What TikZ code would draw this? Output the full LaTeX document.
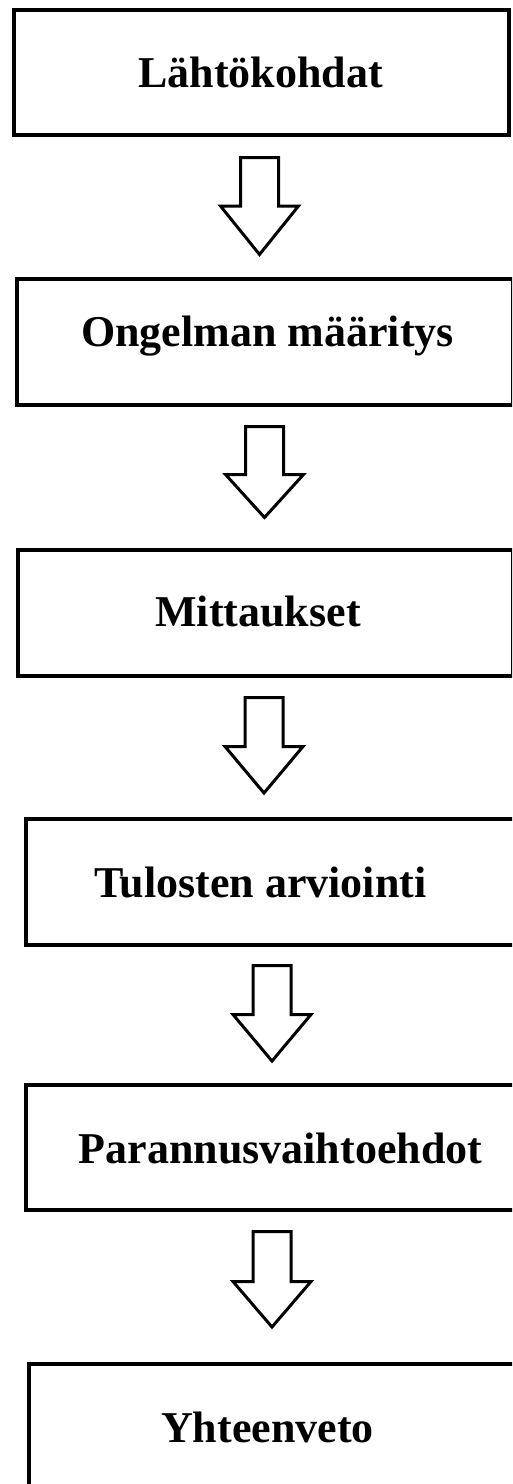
\documentclass[tikz,border=0pt]{standalone}
\usepackage{fontspec}
\setmainfont{Liberation Serif}
\usetikzlibrary{calc}
\tikzset{
  box/.style={draw=black, line width=4pt, rectangle, inner sep=0pt, outer sep=0pt, fill=white},
  lbl/.style={anchor=base, inner sep=0pt, font=\fontsize{44}{50}\selectfont\bfseries},
  barrow/.style={draw=black, line width=3pt, line join=miter, fill=white}
}
\begin{document}
\begin{tikzpicture}[x=1pt,y=-1pt]
\useasboundingbox (0,0) rectangle (512,1484);
\fill[white] (0,0) rectangle (512,1484);
\clip (0,0) rectangle (512,1484);
% boxes
\node[box, minimum width=495pt, minimum height=125pt] (b1) at (261.5,72.5) {};
\node[box, minimum width=496pt, minimum height=126pt] (b2) at (265,342) {};
\node[box, minimum width=495pt, minimum height=126pt] (b3) at (265.5,612.5) {};
\node[box, minimum width=504pt, minimum height=126pt] (b4) at (278,881.5) {};
\node[box, minimum width=504pt, minimum height=124.5pt] (b5) at (278,1147.25) {};
\node[box, minimum width=501pt, minimum height=136pt] (b6) at (279.5,1432) {};
% labels
\node[lbl] (t1) at (260.5,87) {Lähtökohdat};
\node[lbl] (t2) at (267.5,346) {Ongelman määritys};
\node[lbl] (t3) at (258,626) {Mittaukset};
\node[lbl] (t4) at (260.5,897) {Tulosten arviointi};
\node[lbl] (t5) at (280.5,1163) {Parannusvaihtoehdot};
\node[lbl] (t6) at (267.5,1442) {Yhteenveto};
% block arrows
\coordinate (a1) at (259.5,157.5);
\coordinate (a2) at (264.5,426.5);
\coordinate (a3) at (264,697.5);
\coordinate (a4) at (272,965.5);
\coordinate (a5) at (272,1231.5);
\draw[barrow] (a1) ++(-19,0) -- ++(38,0) -- ++(0,48.5) -- ++(20,0) -- ++(-39,48.5) -- ++(-39,-48.5) -- ++(20,0) -- cycle;
\draw[barrow] (a2) ++(-19,0) -- ++(38,0) -- ++(0,48) -- ++(20,0) -- ++(-39,43) -- ++(-39,-43) -- ++(20,0) -- cycle;
\draw[barrow] (a3) ++(-19,0) -- ++(38,0) -- ++(0,49) -- ++(20,0) -- ++(-39,46.5) -- ++(-39,-46.5) -- ++(20,0) -- cycle;
\draw[barrow] (a4) ++(-19,0) -- ++(38,0) -- ++(0,49) -- ++(20,0) -- ++(-39,46.5) -- ++(-39,-46.5) -- ++(20,0) -- cycle;
\draw[barrow] (a5) ++(-19,0) -- ++(38,0) -- ++(0,50) -- ++(20,0) -- ++(-39,45.5) -- ++(-39,-45.5) -- ++(20,0) -- cycle;
\end{tikzpicture}
\end{document}
